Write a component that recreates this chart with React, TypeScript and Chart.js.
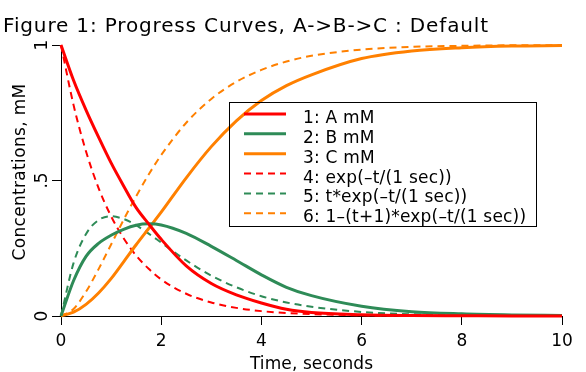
import React, { useEffect, useRef } from "react";
import { Chart, registerables } from "chart.js";
Chart.register(...registerables);

const TITLE = "Figure 1: Progress Curves, A->B->C : Default";
const X_TITLE = "Time, seconds";
const Y_TITLE = "Concentrations, mM";

const T = [0, 0.25, 0.5, 0.75, 1, 1.25, 1.5, 1.75, 2, 2.5, 3, 3.5, 4, 4.5, 5, 6, 7, 8, 9, 10];
const A_MM = [1, 0.87, 0.76, 0.66, 0.565, 0.48, 0.4, 0.34, 0.283, 0.185, 0.12, 0.078, 0.048, 0.025, 0.013, 0.005, 0.002, 0.001, 0, 0];
const B_MM = [0, 0.13, 0.22, 0.268, 0.298, 0.32, 0.335, 0.34, 0.336, 0.305, 0.257, 0.205, 0.152, 0.106, 0.075, 0.036, 0.016, 0.008, 0.004, 0.002];
const C_MM = [0, 0.014, 0.043, 0.085, 0.138, 0.2, 0.263, 0.323, 0.383, 0.51, 0.625, 0.72, 0.795, 0.85, 0.89, 0.95, 0.978, 0.99, 0.996, 0.998];
const EXP_T = [1, 0.779, 0.607, 0.472, 0.368, 0.287, 0.223, 0.174, 0.135, 0.082, 0.05, 0.03, 0.018, 0.011, 0.007, 0.0025, 0.0009, 0.0003, 0.0001, 0];
const T_EXP_T = [0, 0.195, 0.303, 0.354, 0.368, 0.358, 0.335, 0.304, 0.271, 0.205, 0.149, 0.106, 0.073, 0.05, 0.034, 0.015, 0.0064, 0.0027, 0.0011, 0.0005];
const ONE_MINUS = [0, 0.026, 0.09, 0.173, 0.264, 0.355, 0.442, 0.522, 0.594, 0.713, 0.801, 0.864, 0.908, 0.939, 0.96, 0.983, 0.993, 0.997, 0.999, 0.9995];

const SERIES = [A_MM, B_MM, C_MM, EXP_T, T_EXP_T, ONE_MINUS];
const SERIES_LABELS = [
  "1: A mM",
  "2: B mM",
  "3: C mM",
  "4: exp(\u2013t/(1 sec))",
  "5: t*exp(\u2013t/(1 sec))",
  "6: 1\u2013(t+1)*exp(\u2013t/(1 sec))",
];
const COLORS = ["#ff0000", "#2e8b57", "#ff8000", "#ff0000", "#2e8b57", "#ff8000"];
const DASHED = [false, false, false, true, true, true];

const X_TICKS = [0, 2, 4, 6, 8, 10];
const Y_TICKS = [0, 0.5, 1];
const Y_TICK_LABELS = ["0", ".5", "1"];

const FONT = '"DejaVu Sans"';
const DASH = [7, 5];

export default function App() {
  const ref = useRef<HTMLCanvasElement>(null);
  useEffect(() => {
    document.body.style.margin = "0";
    const canvas = ref.current!;
    const overlay = {
      id: "overlay",
      afterDraw(chart: any) {
        const c = chart.ctx as any;
        const xs = chart.scales.x;
        const ys = chart.scales.y;
        const area = chart.chartArea;
        c.save();
        c.fillStyle = "#000";
        c.textBaseline = "alphabetic";
        c.font = `20px ${FONT}`;
        c.textAlign = "left";
        c.letterSpacing = "0.85px";
        c.fillText(TITLE, 3, 32);
        c.letterSpacing = "0px";
        c.font = `17px ${FONT}`;
        c.textAlign = "center";
        X_TICKS.forEach((v) => c.fillText(String(v), xs.getPixelForValue(v), 346));
        c.letterSpacing = "0.1px";
        c.fillText(X_TITLE, (area.left + area.right) / 2, 369);
        c.letterSpacing = "0px";
        Y_TICKS.forEach((v, i) => {
          c.save();
          c.translate(47, ys.getPixelForValue(v));
          c.rotate(-Math.PI / 2);
          c.fillText(Y_TICK_LABELS[i], 0, 0);
          c.restore();
        });
        c.save();
        c.letterSpacing = "0.33px";
        c.translate(24.5, 172);
        c.rotate(-Math.PI / 2);
        c.fillText(Y_TITLE, 0, 0);
        c.restore();

        // legend
        c.strokeStyle = "#000";
        c.lineWidth = 1;
        c.setLineDash([]);
        c.strokeRect(229.5, 102.5, 307, 124);
        c.textAlign = "left";
        c.letterSpacing = "0.2px";
        SERIES_LABELS.forEach((lab, i) => {
          const y = 114 + i * 19.85;
          c.beginPath();
          c.strokeStyle = COLORS[i];
          c.lineWidth = DASHED[i] ? 2 : 3;
          c.setLineDash(DASHED[i] ? DASH : []);
          c.moveTo(244, y);
          c.lineTo(286, y);
          c.stroke();
          c.fillStyle = "#000";
          c.fillText(lab, 303, y + 9);
        });
        c.restore();
      },
    };

    const chart = new Chart(canvas, {
      type: "line",
      data: {
        datasets: SERIES.map((vals, i) => ({
          label: SERIES_LABELS[i],
          data: T.map((t, j) => ({ x: t, y: vals[j] })),
          borderColor: COLORS[i],
          backgroundColor: COLORS[i],
          borderWidth: DASHED[i] ? 2 : 3,
          borderDash: DASHED[i] ? DASH : [],
          pointRadius: 0,
          cubicInterpolationMode: "monotone",
          fill: false,
          clip: false,
          order: DASHED[i] ? 1 : 0,
        })),
      },
      options: {
        animation: false,
        responsive: false,
        events: [],
        layout: { padding: { top: 45, right: 24, left: 0, bottom: 0 } },
        plugins: { legend: { display: false }, title: { display: false }, tooltip: { enabled: false } },
        scales: {
          x: {
            type: "linear",
            min: 0,
            max: 10,
            ticks: { display: false, stepSize: 2 },
            grid: { drawOnChartArea: false, drawTicks: true, tickLength: 9, color: "#000" },
            border: { display: true, color: "#000", width: 1 },
            afterFit: (s: any) => {
              s.height = 56;
            },
          },
          y: {
            type: "linear",
            min: 0,
            max: 1,
            ticks: { display: false, stepSize: 0.5 },
            grid: { drawOnChartArea: false, drawTicks: true, tickLength: 9, color: "#000" },
            border: { display: true, color: "#000", width: 1 },
            afterFit: (s: any) => {
              s.width = 61;
            },
          },
        },
      },
      plugins: [overlay],
    } as any);
    return () => chart.destroy();
  }, []);
  return (
    <div style={{ position: "fixed", left: 0, top: 0, width: 586, height: 372, background: "#fff" }}>
      <canvas ref={ref} width={586} height={372} style={{ width: 586, height: 372 }} />
    </div>
  );
}
